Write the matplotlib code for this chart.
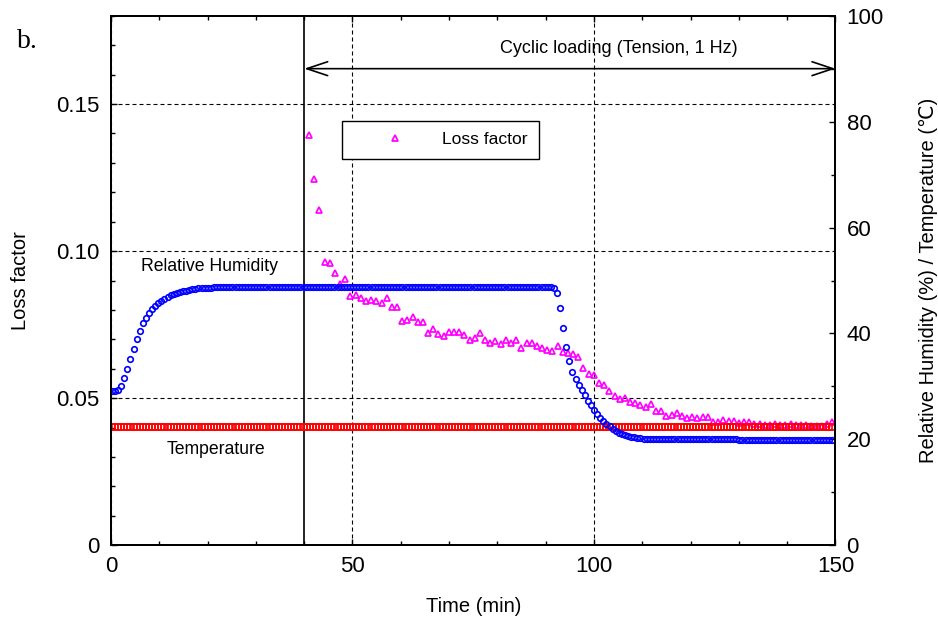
import numpy as np
import matplotlib
matplotlib.use("Agg")
import matplotlib.pyplot as plt
from matplotlib.ticker import MultipleLocator

plt.rcParams['font.family'] = ['Liberation Sans', 'DejaVu Sans']

# sampling times (min)
t_sensor = np.linspace(0.2, 149.3, 234)
t_loss = np.linspace(41.0, 149.3, 102)

load_start = 40
load_end = 150

# relative humidity (%), right axis
rh = [
    29.1, 29.2, 29.3, 30.1, 31.6, 33.3, 35.2, 37.1, 38.9, 40.5, 41.9, 43.0, 43.9,
    44.6, 45.2, 45.7, 46.1, 46.5, 46.9, 47.2, 47.4, 47.7, 47.9, 48.0, 48.1, 48.3,
    48.4, 48.4, 48.5, 48.5, 48.6, 48.6, 48.6, 48.7, 48.7, 48.7, 48.7,
    48.8, 48.8, 48.8, 48.8, 48.8, 48.8, 48.8, 48.8, 48.8, 48.8,
    48.8, 48.8, 48.8, 48.8, 48.8, 48.8, 48.8, 48.8, 48.8, 48.8,
    48.8, 48.8, 48.8, 48.8, 48.8, 48.8, 48.8, 48.8, 48.8, 48.8,
    48.8, 48.8, 48.8, 48.8, 48.8, 48.8, 48.8, 48.8, 48.8, 48.8,
    48.8, 48.8, 48.8, 48.8, 48.8, 48.8, 48.8, 48.8, 48.8, 48.8,
    48.8, 48.8, 48.8, 48.8, 48.8, 48.8, 48.8, 48.8, 48.8, 48.8,
    48.8, 48.8, 48.8, 48.8, 48.8, 48.8, 48.8, 48.8, 48.8, 48.8,
    48.8, 48.8, 48.8, 48.8, 48.8, 48.8, 48.8, 48.8, 48.8, 48.8,
    48.8, 48.8, 48.8, 48.8, 48.8, 48.8, 48.8, 48.8, 48.8, 48.8,
    48.8, 48.8, 48.8, 48.8, 48.8, 48.8, 48.8, 48.8, 48.8, 48.8,
    48.8, 48.8, 48.8, 48.8, 48.8, 48.8,
    48.5, 47.7, 44.8, 41.0, 37.4, 34.8, 32.7, 31.4, 30.3, 29.3,
    28.3, 27.3, 26.4, 25.5, 24.8, 24.1, 23.5, 23.0, 22.5, 22.0,
    21.6, 21.3, 21.0, 20.8, 20.6, 20.5, 20.4, 20.3, 20.2, 20.1,
    20.1, 20.1, 20.1, 20.1, 20.1, 20.1, 20.1, 20.1, 20.1, 20.1,
    20.0, 20.0, 20.0, 20.0, 20.0, 20.0, 20.0, 20.0, 20.0, 20.0,
    20.0, 20.0, 20.0, 20.0, 20.0, 20.0, 20.0, 20.0, 20.0, 20.0,
    19.9, 19.9, 19.9, 19.9, 19.9, 19.9, 19.9, 19.9, 19.9, 19.9,
    19.9, 19.9, 19.9, 19.9, 19.9, 19.9, 19.9, 19.9, 19.9, 19.9,
    19.8, 19.8, 19.8, 19.8, 19.8, 19.8, 19.8, 19.8, 19.8, 19.8, 19.8,
]

# temperature (C), right axis
temp = [
    22.4, 22.4, 22.4, 22.4, 22.4, 22.4, 22.4, 22.4, 22.4, 22.4, 22.4, 22.4, 22.4,
    22.4, 22.4, 22.4, 22.4, 22.4, 22.4, 22.4, 22.4, 22.4, 22.4, 22.4, 22.4, 22.4,
    22.4, 22.4, 22.4, 22.4, 22.4, 22.4, 22.4, 22.4, 22.4, 22.4, 22.4, 22.4, 22.4,
    22.4, 22.4, 22.4, 22.4, 22.4, 22.4, 22.4, 22.4, 22.4, 22.4, 22.4, 22.4, 22.4,
    22.4, 22.4, 22.4, 22.4, 22.4, 22.4, 22.4, 22.4, 22.4, 22.4, 22.4, 22.4, 22.4,
    22.4, 22.4, 22.4, 22.4, 22.4, 22.4, 22.4, 22.4, 22.4, 22.4, 22.4, 22.4, 22.4,
    22.4, 22.4, 22.4, 22.4, 22.4, 22.4, 22.4, 22.4, 22.4, 22.4, 22.4, 22.4, 22.4,
    22.4, 22.4, 22.4, 22.4, 22.4, 22.4, 22.4, 22.4, 22.4, 22.4, 22.4, 22.4, 22.4,
    22.4, 22.4, 22.4, 22.4, 22.4, 22.4, 22.4, 22.4, 22.4, 22.3, 22.3, 22.3, 22.3,
    22.3, 22.3, 22.3, 22.3, 22.3, 22.3, 22.3, 22.3, 22.3, 22.3, 22.3, 22.3, 22.3,
    22.3, 22.3, 22.3, 22.3, 22.3, 22.3, 22.3, 22.3, 22.3, 22.3, 22.3, 22.3, 22.3,
    22.3, 22.3, 22.3, 22.3, 22.3, 22.3, 22.3, 22.3, 22.3, 22.3, 22.3, 22.3, 22.3,
    22.3, 22.3, 22.3, 22.3, 22.3, 22.3, 22.3, 22.3, 22.3, 22.3, 22.3, 22.3, 22.3,
    22.3, 22.3, 22.3, 22.3, 22.3, 22.3, 22.3, 22.3, 22.3, 22.3, 22.3, 22.3, 22.3,
    22.3, 22.3, 22.3, 22.3, 22.3, 22.3, 22.3, 22.3, 22.3, 22.3, 22.3, 22.3, 22.3,
    22.3, 22.3, 22.3, 22.3, 22.3, 22.3, 22.3, 22.3, 22.3, 22.3, 22.3, 22.3, 22.3,
    22.3, 22.3, 22.3, 22.3, 22.3, 22.3, 22.3, 22.3, 22.3, 22.3, 22.3, 22.3, 22.3,
    22.3, 22.3, 22.3, 22.3, 22.3, 22.3, 22.3, 22.3, 22.3, 22.3, 22.3, 22.3, 22.3,
]

# loss factor, left axis
loss = [
    0.1393, 0.1245, 0.1140, 0.0963, 0.0958, 0.0925, 0.0888, 0.0906, 0.0848, 0.0851,
    0.0841, 0.0831, 0.0833, 0.0831, 0.0825, 0.0839, 0.0811, 0.0811, 0.0764, 0.0767,
    0.0776, 0.0758, 0.0758, 0.0720, 0.0736, 0.0718, 0.0712, 0.0725, 0.0725, 0.0725,
    0.0715, 0.0698, 0.0706, 0.0720, 0.0698, 0.0689, 0.0693, 0.0684, 0.0697, 0.0689,
    0.0697, 0.0669, 0.0687, 0.0688, 0.0678, 0.0672, 0.0665, 0.0660, 0.0679, 0.0656,
    0.0653, 0.0650, 0.0639, 0.0604, 0.0582, 0.0578,
    0.0551, 0.0546, 0.0526, 0.0509, 0.0498, 0.0502, 0.0487, 0.0485, 0.0477, 0.0471,
    0.0481, 0.0458, 0.0457, 0.0441, 0.0442, 0.0451, 0.0440, 0.0432, 0.0437, 0.0432,
    0.0436, 0.0436, 0.0419, 0.0419, 0.0425, 0.0423, 0.0423, 0.0415, 0.0420, 0.0420,
    0.0414, 0.0414, 0.0408, 0.0408, 0.0414, 0.0408, 0.0408, 0.0414, 0.0408, 0.0408,
    0.0408, 0.0407, 0.0407, 0.0407, 0.0412, 0.0418,
]

loss_ticks = [0, 0.05, 0.10, 0.15]
loss_ticklabels = ["0", "0.05", "0.10", "0.15"]

fig = plt.figure(figsize=(9.38, 6.26), dpi=100)
ax = fig.add_axes([0.1183, 0.1289, 0.7724, 0.846])
ax2 = ax.twinx()

dash = (0, (3.6, 2.7))
ax.grid(True, which='major', color='black', linestyle=dash, linewidth=0.8)
ax.axvline(load_start, color='black', lw=1.2)

h_loss, = ax.plot(t_loss, loss, linestyle='none', marker='^', ms=5.0,
                  mfc='none', mec='#ff00ff', mew=1.25, label='Loss factor')
ax2.plot(t_sensor, temp, linestyle='none', marker='s', ms=4.0,
         mfc='none', mec='#ff0000', mew=1.2)
ax2.plot(t_sensor, rh, linestyle='none', marker='o', ms=4.0,
         mfc='none', mec='#0000ff', mew=1.2)

ax.set_xlim(0, 150)
ax.set_ylim(0, 0.18)
ax2.set_ylim(0, 100)

ax.set_xticks([0, 50, 100, 150])
ax.xaxis.set_minor_locator(MultipleLocator(10))
ax.set_yticks(loss_ticks)
ax.set_yticklabels(loss_ticklabels)
ax.yaxis.set_minor_locator(MultipleLocator(0.01))
ax2.set_yticks([0, 20, 40, 60, 80, 100])
ax2.yaxis.set_minor_locator(MultipleLocator(10))

ax.tick_params(which='both', direction='in', top=True, right=False,
               labelsize=16, width=1.0)
ax.tick_params(which='major', length=4, pad=8)
ax.tick_params(which='minor', length=3)
ax2.tick_params(which='both', direction='in', labelsize=16, width=1.0)
ax2.tick_params(which='major', length=4, pad=8)
ax2.tick_params(which='minor', length=3)

for a in (ax, ax2):
    for s in a.spines.values():
        s.set_linewidth(1.4)

ax.set_xlabel('Time (min)', fontsize=14.5, labelpad=14)
ax.set_ylabel('Loss factor', fontsize=14.5, labelpad=19)
ax2.set_ylabel('Relative Humidity (%) / Temperature (\u2103)', fontsize=14.5, labelpad=25)

ax2.annotate('', xy=(load_start, 90), xytext=(load_end, 90),
             arrowprops=dict(arrowstyle='<->,head_length=15,head_width=5',
                             mutation_scale=1, lw=1.2, color='black',
                             shrinkA=0, shrinkB=0))
ax2.text(105.2, 93.9, 'Cyclic loading (Tension, 1 Hz)', fontsize=13,
         ha='center', va='center')
ax.text(20.5, 0.0947, 'Relative Humidity', fontsize=12.7, ha='center', va='center')
ax.text(21.8, 0.0327, 'Temperature', fontsize=12.7, ha='center', va='center')
fig.text(0.0184, 0.9228, 'b.', fontsize=20, family='Liberation Serif',
         ha='left', va='baseline')

leg = ax2.legend(handles=[h_loss], loc='upper left', bbox_to_anchor=(0.3184, 0.8017),
                 borderaxespad=0, fancybox=False, edgecolor='black', framealpha=1,
                 fontsize=12.6, handlelength=4.8, handletextpad=0.3,
                 borderpad=0.65, numpoints=1)
leg.get_frame().set_linewidth(1.0)

fig.savefig('out.png', dpi=100)
